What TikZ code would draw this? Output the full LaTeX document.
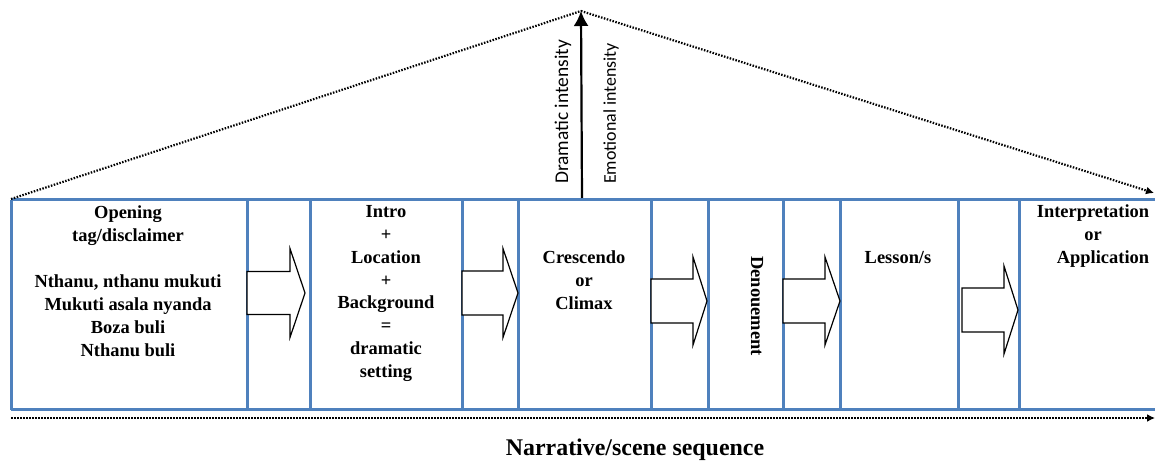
\documentclass[tikz,border=0pt]{standalone}
\usepackage{fontspec}
\setmainfont{Liberation Serif}
\setsansfont{Carlito}
\usetikzlibrary{arrows.meta}
\definecolor{boxblue}{RGB}{79,129,189}
\newcommand{\stagefont}{\fontsize{18.5}{23}\selectfont\bfseries}
% block arrow: x start, x neck, x tip, y middle, half shaft, half head
\newcommand{\blockarrow}[6]{%
  \draw[blockarrow] (#1,#4-#5) -- (#2,#4-#5) -- (#2,#4-#6) -- (#3,#4)
    -- (#2,#4+#6) -- (#2,#4+#5) -- (#1,#4+#5) -- cycle;}
\tikzset{
  frame/.style={draw=boxblue,line width=3bp,line cap=square},
  blockarrow/.style={draw=black,line width=1.2bp,fill=white,line join=miter},
  trend/.style={dash pattern=on 1.5bp off 1.5bp,line width=2.2bp},
  stage/.style={align=center,inner sep=0pt,anchor=north,font=\stagefont},
  axislabel/.style={inner sep=0pt,rotate=90,anchor=west}
}
\begin{document}
\begin{tikzpicture}[x=1bp,y=-1bp]
\useasboundingbox (0,0) rectangle (1155,463);
% frame of the stages
\draw[frame] (11,200) -- (1155,200);
\draw[frame] (11,410) -- (1155,410);
\foreach \x in {11,247,310,462,518,651,708,783,840,958,1019}
  \draw[frame] (\x,200) -- (\x,410);
% block arrows between stages
\blockarrow{247}{290}{305}{293}{21.5}{44.5}
\blockarrow{462}{503}{518}{293}{22}{44.5}
\blockarrow{651}{693}{707}{301}{22}{44}
\blockarrow{783}{825}{840}{301}{22}{44}
\blockarrow{962}{1004}{1018}{310}{22}{44}
% intensity axis and trend lines
\coordinate (base) at (582,198);
\coordinate (apex) at (581,11);
\coordinate (tl) at (11,199);
\coordinate (tr) at (1154,193);
\coordinate (bl) at (11,418);
\coordinate (br) at (1155,418);
\draw[line width=2.2bp,-{Latex[length=15bp,width=15bp]}] (base) -- (apex);
\draw[trend] (tl) -- (apex);
\draw[trend,-{Latex[length=8bp,width=8bp]}] (apex) -- (tr);
\draw[trend,-{Latex[length=8bp,width=8bp]}] (bl) -- (br);
\node[axislabel,font=\sffamily\fontsize{19.5}{20}\selectfont] (dramatic) at (563,184) {Dramatic intensity};
\node[axislabel,font=\sffamily\fontsize{18}{20}\selectfont] (emotional) at (611,184) {Emotional intensity};
% stage texts
\node[stage] (opening) at (128,206)
  {Opening\\tag/disclaimer\\[23bp]Nthanu, nthanu mukuti\\Mukuti asala nyanda\\Boza buli\\Nthanu buli};
\node[stage] (intro) at (386,205)
  {Intro\\+\\Location\\+\\Background\\=\\dramatic\\setting};
\node[stage] (climax) at (584,251) {Crescendo\\or\\Climax};
\node[stage,rotate=-90,anchor=center] (denouement) at (757,306) {Denouement};
\node[stage] (lesson) at (898,251) {Lesson/s};
\node[stage] (interp) at (1093,205)
  {Interpretation\\or\hspace*{32bp}\\\hspace*{20bp}Application};
\node[inner sep=0pt,font=\bfseries\fontsize{24}{28}\selectfont] (sequence) at (635,450)
  {Narrative/scene sequence};
\end{tikzpicture}
\end{document}
